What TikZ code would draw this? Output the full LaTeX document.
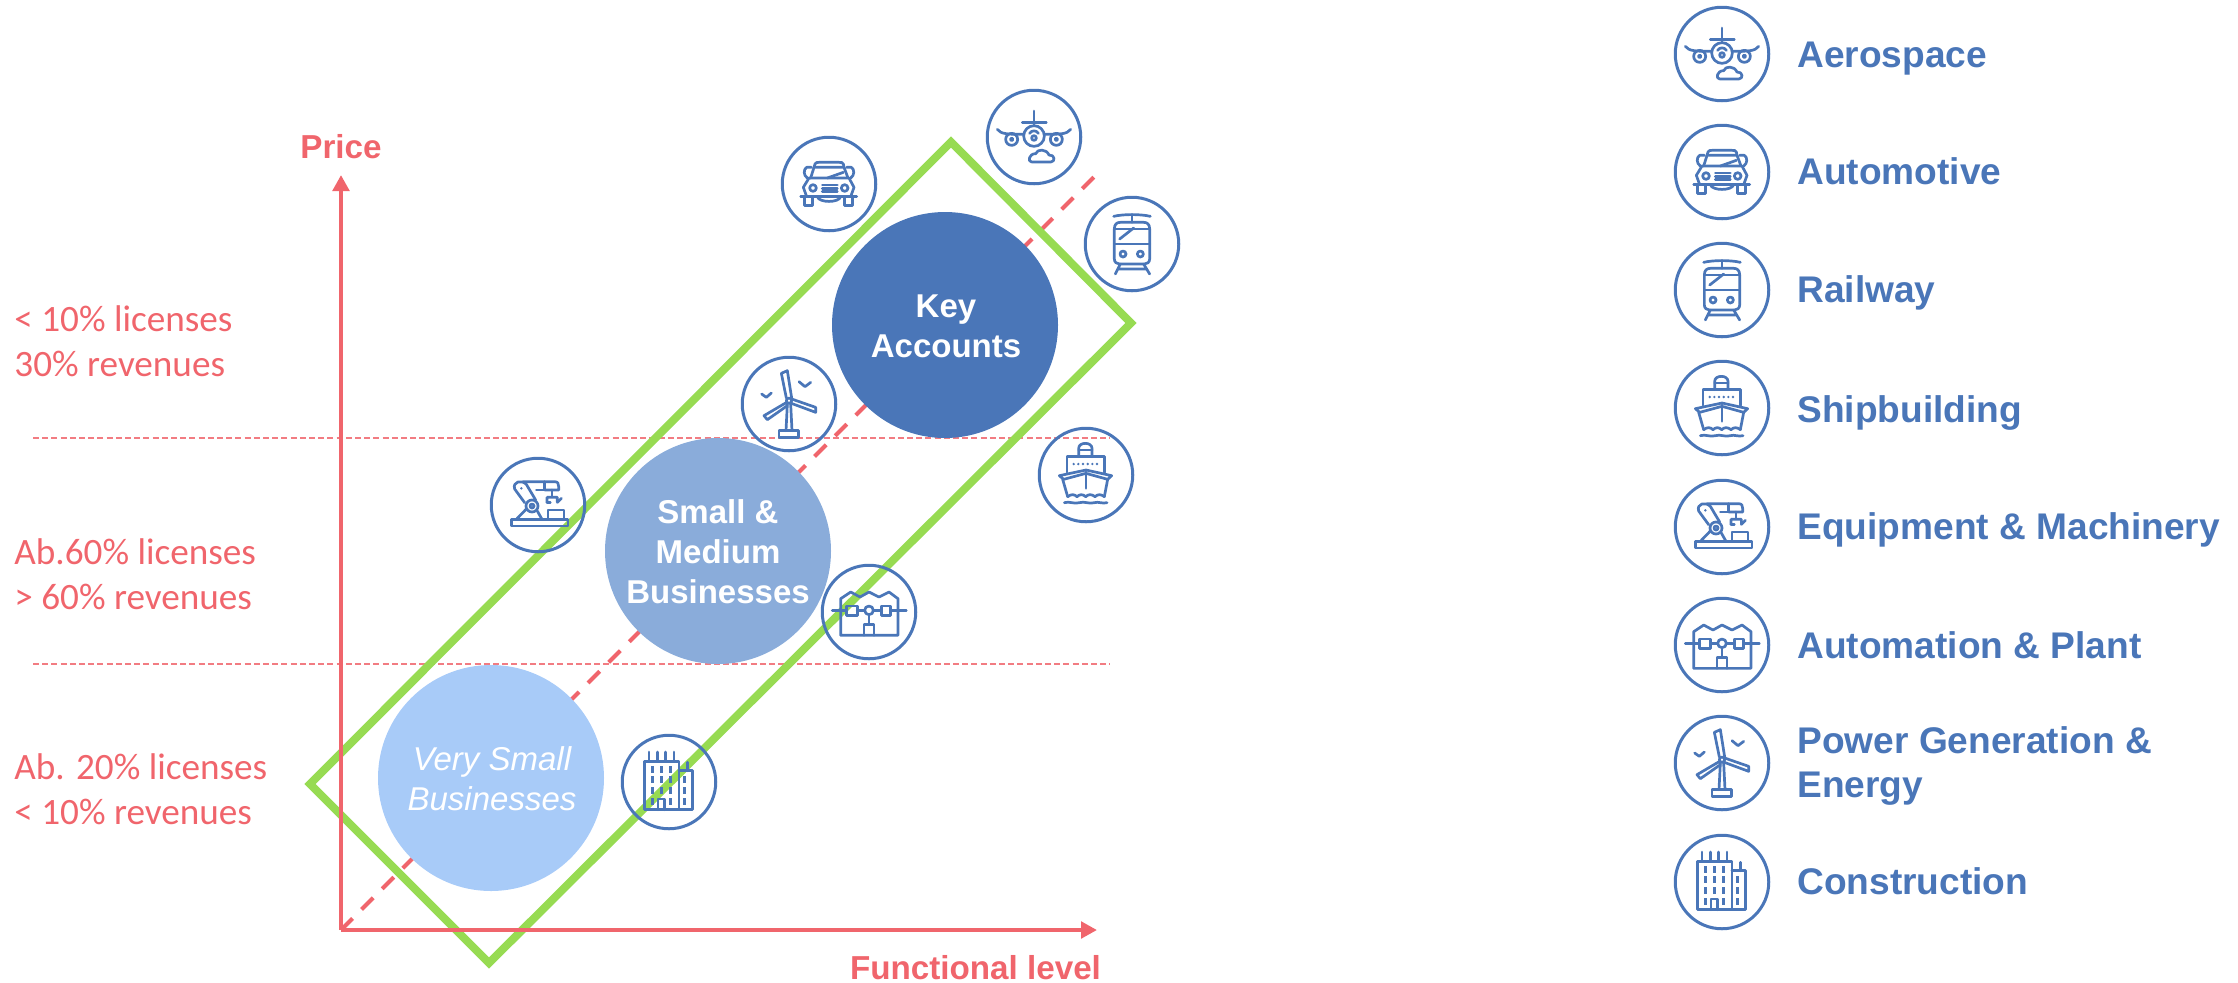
\documentclass[tikz,border=0pt]{standalone}
\usepackage{fontspec}
\setmainfont{Liberation Sans}
\newfontfamily\carfont{Carlito}
\usetikzlibrary{arrows.meta}
\definecolor{redc}{HTML}{F0656C}
\definecolor{greenc}{HTML}{97DB52}
\definecolor{bluec}{HTML}{4A76B8}
\definecolor{midc}{HTML}{8AACDA}
\definecolor{lightc}{HTML}{A8CBF8}
\tikzset{
  iconstroke/.style={x=0.16667pt,y=-0.16667pt,line width=1.35pt,draw=bluec,line join=round,line cap=round},
  iconring/.style={circle,draw=bluec,line width=1.5pt,minimum size=93.5*0.5pt,inner sep=0pt},
  bigcircle/.style={circle,minimum size=226*0.5pt,inner sep=0pt},
  bigtext/.style={text=white,align=center,inner sep=0pt,font=\fontsize{16.5}{20}\selectfont\bfseries},
  legendtext/.style={text=bluec,anchor=base west,inner sep=0pt,align=left,font=\fontsize{18.55}{22}\selectfont\bfseries},
  sharelabel/.style={text=redc,anchor=west,inner sep=0pt,align=left,font=\carfont\fontsize{18.6}{22.3}\selectfont},
  axislabel/.style={text=redc,inner sep=0pt,anchor=base,font=\fontsize{16.6}{20}\selectfont\bfseries},
  axisline/.style={draw=redc,line width=2pt,-{Triangle[length=8pt,width=8.2pt]}},
  bandline/.style={draw=redc!85,line width=0.6pt,dash pattern=on 3pt off 1.6pt},
  trendline/.style={draw=redc,line width=2pt,dash pattern=on 8.2pt off 6.36pt},
  fitbox/.style={draw=greenc,line width=4pt,miter limit=10},
  pics/iconplane/.style={code={\begin{scope}[iconstroke,shift={(-185,-163)}]
    \draw (185,85)--(185,125) (150,120)--(222,120);
    \draw (185,160) circle (31);
    \draw (185,166) circle (7);
    \draw (172,152) .. controls (178,142) and (192,142) .. (198,152);
    \draw (75,140) .. controls (85,155) and (110,155) .. (153,155);
    \draw (295,140) .. controls (285,155) and (260,155) .. (217,155);
    \draw (118,170) circle (18) (252,170) circle (18);
    \draw (118,170) circle (4) (252,170) circle (4);
    \draw (178,238)--(235,238) .. controls (250,238) and (248,215) .. (230,217) .. controls (222,198) and (195,198) .. (190,213) .. controls (170,212) and (165,238) .. (178,238);
  \end{scope}}},
  pics/iconcar/.style={code={\begin{scope}[iconstroke,shift={(-185,-515)}]
    \draw (130,497)--(140,465)--(230,465)--(242,497);
    \draw (140,465)--(143,455) .. controls (145,450) and (150,450) .. (155,450)--(215,450) .. controls (222,450) and (226,450) .. (228,455)--(230,465);
    \draw (118,553)--(108,525)--(125,497)--(245,497)--(260,525)--(250,553);
    \draw (100,553)--(268,553);
    \draw (112,553)--(112,580)--(135,580)--(135,553) (232,553)--(232,580)--(255,580)--(255,553);
    \draw (150,553) .. controls (155,572) and (215,572) .. (220,553);
    \draw (137,527) circle (10) (232,527) circle (10);
    \draw (165,518)--(210,518) (165,528)--(210,528) (165,538)--(210,538);
    \draw (180,497)--(228,480);
    \draw (132,465)--(118,465) .. controls (108,470) and (108,490) .. (120,497);
    \draw (238,465)--(252,465) .. controls (262,470) and (262,490) .. (250,497);
  \end{scope}}},
  pics/icontrain/.style={code={\begin{scope}[iconstroke,shift={(-185,-870)}]
    \draw (130,787) .. controls (160,780) and (210,780) .. (240,787);
    \draw (185,785)--(185,805);
    \draw (132,825) .. controls (132,810) and (140,805) .. (150,805)--(220,805) .. controls (230,805) and (238,810) .. (238,825)--(238,915) .. controls (238,925) and (230,930) .. (222,930)--(148,930) .. controls (140,930) and (132,925) .. (132,915)--cycle;
    \draw (132,825)--(238,825) (132,870)--(238,870);
    \draw (148,855)--(190,822);
    \draw (158,900) circle (9) (210,900) circle (9);
    \draw (150,930)--(135,960) (220,930)--(238,960) (143,945)--(228,945);
  \end{scope}}},
  pics/iconship/.style={code={\begin{scope}[iconstroke,shift={(-185,-205)}]
    \draw (163,150)--(163,125) .. controls (163,105) and (203,105) .. (203,125)--(203,150);
    \draw (163,130)--(203,130);
    \draw (128,197)--(128,150)--(240,150)--(240,197);
    \foreach \px in {148,162,176,190,204,218} \fill[bluec] (\px,172) circle (4);
    \draw (105,207)--(185,190)--(262,207)--(250,218)--(185,200)--(118,218)--cycle;
    \draw (115,218)--(130,270) (250,218)--(240,270);
    \draw (185,195)--(185,245);
    \draw (130,270) .. controls (140,262) and (150,262) .. (158,270) .. controls (166,262) and (176,262) .. (184,270) .. controls (192,262) and (202,262) .. (212,270) .. controls (220,262) and (230,262) .. (240,270);
    \draw (120,288) .. controls (135,283) and (150,293) .. (165,288) .. controls (180,283) and (195,293) .. (210,288) .. controls (222,284) and (235,292) .. (248,288);
  \end{scope}}},
  pics/iconrobot/.style={code={\begin{scope}[iconstroke,shift={(-185,-560)}]
    \draw (105,603) rectangle (275,623);
    \draw (215,603)--(215,575)--(263,575)--(263,603);
    \draw (167,563) circle (18) (167,563) circle (6);
    \draw (145,553)--(115,512) .. controls (108,490) and (135,483) .. (150,498)--(178,545);
    \draw (140,490)--(235,490) .. controls (245,490) and (247,497) .. (247,505) -- (247,515)--(205,515);
    \draw (205,490)--(205,515)--(180,515);
    \draw (227,515)--(227,535);
    \draw (212,552)--(212,537)--(243,537)--(243,552)--(255,540);
    \draw (212,552)--(222,552);
    \draw (120,603)--(150,572) (183,578)--(197,603);
    \fill[bluec] (135,510) circle (4);
  \end{scope}}},
  pics/iconplant/.style={code={\begin{scope}[iconstroke,shift={(-185,-915)}]
    \draw (100,985)--(100,875)--(130,855)--(158,870)--(185,855)--(215,870)--(245,855)--(272,875)--(272,985)--cycle;
    \draw (75,910)--(118,910) (150,910)--(172,910) (198,910)--(222,910) (250,910)--(297,910);
    \draw (118,897) rectangle (150,925) (222,897) rectangle (250,925);
    \draw (185,910) circle (13);
    \draw (185,923)--(185,952);
    \draw (170,985)--(170,952)--(200,952)--(200,985);
  \end{scope}}},
  pics/iconwind/.style={code={\begin{scope}[iconstroke,shift={(-185,-250)}]
    \draw (155,330) rectangle (213,350);
    \draw (176,330)--(180,250) (194,330)--(190,250);
    \draw (185,240) circle (8);
    \draw (177,232)--(162,158)--(180,150)--(193,232);
    \draw (193,235)--(265,260)--(265,275)--(192,248);
    \draw (178,245)--(110,285)--(120,297)--(180,255);
    \draw (103,220)--(117,230)--(132,217) (215,183)--(233,198)--(250,185);
  \end{scope}}},
  pics/iconbuilding/.style={code={\begin{scope}[iconstroke,shift={(-185,-607)}]
    \draw (215,690)--(112,690)--(112,545)--(215,545)--cycle;
    \draw (215,573)--(255,573)--(255,690)--(215,690);
    \draw (125,517)--(125,545) (150,517)--(150,545) (175,517)--(175,545) (200,517)--(200,545) (240,548)--(240,573);
    \foreach \wy in {570,600,633} \draw[line cap=butt,line width=1.7pt] (135,\wy-10)--(135,\wy+10) (162,\wy-10)--(162,\wy+10) (190,\wy-10)--(190,\wy+10);
    \foreach \wy in {600,633,665} \draw[line cap=butt,line width=1.7pt] (232,\wy-10)--(232,\wy+10);
    \draw[line cap=butt,line width=1.7pt] (135,655)--(135,675) (190,655)--(190,675);
    \draw (152,690)--(152,658)--(172,658)--(172,690);
  \end{scope}}}
}
\newcommand{\placeicon}[4]{\node[iconring] (#1) at (#2,#3) {}; \pic at (#1) {#4};}
\begin{document}
\begin{tikzpicture}[x=0.5pt,y=-0.5pt]
\useasboundingbox (0,0) rectangle (2238,982);
% coordinates
\coordinate (origin) at (341,930);
\coordinate (ytip) at (341,175);
\coordinate (xtip) at (1097,930);
\coordinate (trendend) at (1094,177);
\coordinate (bandAl) at (33,438);
\coordinate (bandAr) at (1110,438);
\coordinate (bandBl) at (33,664);
\coordinate (bandBr) at (1110,664);
\coordinate (boxL) at (310,784);
\coordinate (boxT) at (951,142);
\coordinate (boxR) at (1131,323);
\coordinate (boxB) at (489,963);
% lines
\draw[bandline] (bandAl) -- (bandAr);
\draw[bandline] (bandBl) -- (bandBr);
\draw[trendline] (origin) -- (trendend);
\draw[fitbox] (boxL) -- (boxT) -- (boxR) -- (boxB) -- cycle;
\draw[axisline] (origin) -- (ytip);
\draw[axisline] (origin) -- (xtip);
% big circles
\node[bigcircle,fill=bluec] (key) at (945,325) {};
\node[bigtext] (keyText) at (946,326) {Key\\Accounts};
\node[bigcircle,fill=midc] (smb) at (718,551) {};
\node[bigtext] (smbText) at (718,552) {Small \&\\Medium\\Businesses};
\node[bigcircle,fill=lightc] (vsb) at (491,778) {};
\node[bigtext,font=\fontsize{16.5}{20}\selectfont\itshape] (vsbText) at (492,779) {Very Small\\Businesses};
% chart icons
\placeicon{cAero}{1034}{137}{iconplane}
\placeicon{cAuto}{829}{184}{iconcar}
\placeicon{cRail}{1132}{244}{icontrain}
\placeicon{cWind}{789}{404}{iconwind}
\placeicon{cShip}{1086}{475}{iconship}
\placeicon{cRobot}{538}{505}{iconrobot}
\placeicon{cPlant}{869}{612}{iconplant}
\placeicon{cBuild}{669}{782}{iconbuilding}
% legend icons
\placeicon{lAero}{1722}{54}{iconplane}
\placeicon{lAuto}{1722}{172}{iconcar}
\placeicon{lRail}{1722}{290}{icontrain}
\placeicon{lShip}{1722}{408}{iconship}
\placeicon{lRobot}{1722}{527}{iconrobot}
\placeicon{lPlant}{1722}{645}{iconplant}
\placeicon{lWind}{1722}{763}{iconwind}
\placeicon{lBuild}{1722}{882}{iconbuilding}
% legend texts
\node[legendtext] (tAero) at (1797,67) {Aerospace};
\node[legendtext] (tAuto) at (1797,184) {Automotive};
\node[legendtext] (tRail) at (1797,302) {Railway};
\node[legendtext] (tShip) at (1797,422) {Shipbuilding};
\node[legendtext] (tRobot) at (1797,539) {Equipment \& Machinery};
\node[legendtext] (tPlant) at (1797,658) {Automation \& Plant};
\node[legendtext] (tWind) at (1797,797) {Power Generation \&\\Energy};
\node[legendtext] (tBuild) at (1797,894) {Construction};
% share labels
\node[sharelabel] (shareA) at (14,341) {< 10\% licenses\\30\% revenues};
\node[sharelabel] (shareB) at (14,574) {Ab.60\% licenses\\> 60\% revenues};
\node[sharelabel] (shareC) at (14,789) {Ab. 20\% licenses\\< 10\% revenues};
% axis labels
\node[axislabel] (priceLabel) at (341,158) {Price};
\node[axislabel] (funcLabel) at (975.5,979) {Functional level};
\end{tikzpicture}
\end{document}
